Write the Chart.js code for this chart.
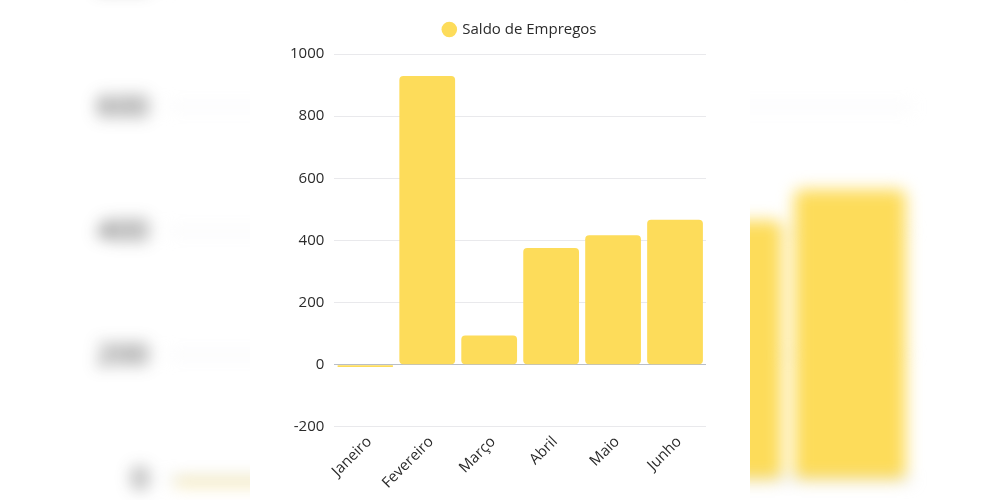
<!DOCTYPE html>
<html>
<head>
<meta charset="utf-8">
<script src="https://cdn.jsdelivr.net/npm/chart.js@4"></script>
<style>
  html, body { margin: 0; padding: 0; background: #fff; }
  body { width: 1000px; height: 500px; position: relative; overflow: hidden; }
  #bgWrap { position: absolute; left: 0; top: 0; width: 1000px; height: 500px; filter: blur(8px); }
  #bgBox { position: absolute; left: 250px; top: 0; width: 500px; height: 500px; transform: scale(2); transform-origin: 250px 250px; }
  #mainBox { position: absolute; left: 250px; top: 0; width: 500px; height: 500px; background: #fff; }
</style>
</head>
<body>
<div id="bgWrap"><div id="bgBox"><canvas id="bgChart"></canvas></div></div>
<div id="mainBox"><canvas id="mainChart"></canvas></div>
<script>
const months = ["Janeiro", "Fevereiro", "Março", "Abril", "Maio", "Junho"];
const saldo = [-7, 929, 94, 376, 417, 467];
const seriesLabel = "Saldo de Empregos";
const yMin = -200;
const yMax = 1000;
const yStep = 200;

const barColor = "#FDDC5A";
const textColor = "#2b2b2b";

Chart.defaults.font.family = "'Open Sans', 'Noto Sans', sans-serif";
Chart.defaults.color = textColor;

// a bit more room under the legend
const legendSpacer = {
  id: "legendSpacer",
  beforeInit(chart) {
    const originalFit = chart.legend.fit;
    chart.legend.fit = function () {
      originalFit.bind(chart.legend)();
      this.height += 7;
    };
  }
};

function makeConfig() {
  return {
    type: "bar",
    data: {
      labels: months,
      datasets: [{
        label: seriesLabel,
        data: saldo,
        backgroundColor: barColor,
        borderWidth: 0,
        borderRadius: 4,
        borderSkipped: false,
        categoryPercentage: 1,
        barPercentage: 0.9
      }]
    },
    options: {
      responsive: true,
      maintainAspectRatio: false,
      animation: false,
      layout: { padding: { left: 30, right: 44, top: 4, bottom: 2 } },
      plugins: {
        legend: {
          fullSize: false,
          labels: {
            usePointStyle: true,
            pointStyle: "circle",
            boxWidth: 11,
            boxHeight: 11,
            padding: 18,
            font: { size: 15 },
            color: textColor
          }
        },
        tooltip: { enabled: false }
      },
      scales: {
        x: {
          grid: { display: false, drawTicks: false },
          border: { display: false },
          ticks: { maxRotation: 45, minRotation: 45, font: { size: 15 }, padding: 6, labelOffset: 4 }
        },
        y: {
          min: yMin,
          max: yMax,
          border: { display: false },
          grid: {
            drawTicks: false,
            color: (ctx) => ctx.tick && ctx.tick.value === 0 ? "#b9bec7" : "#e9e9ec"
          },
          ticks: {
            stepSize: yStep,
            padding: 10,
            font: { size: 15 },
            callback: (value) => String(value)
          }
        }
      }
    },
    plugins: [legendSpacer]
  };
}

new Chart(document.getElementById("bgChart"), makeConfig());
new Chart(document.getElementById("mainChart"), makeConfig());
</script>
</body>
</html>
